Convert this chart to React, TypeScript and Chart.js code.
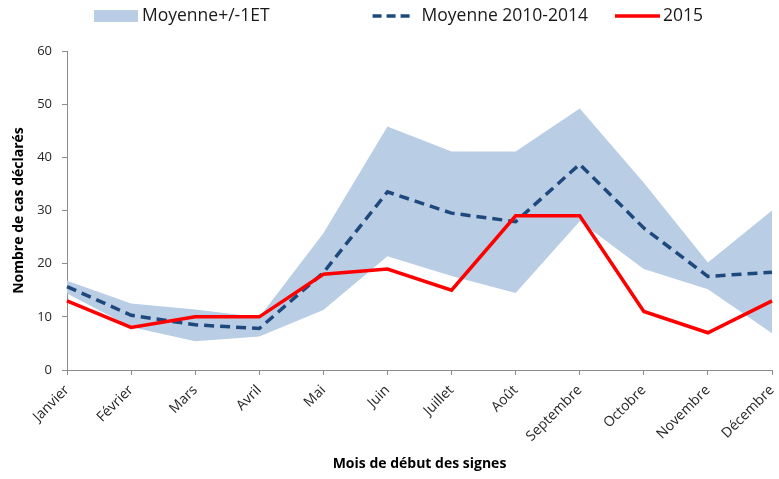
import React, { useEffect, useRef } from "react";
import { Chart, registerables } from "chart.js";

Chart.register(...registerables);

const months = ["Janvier", "Février", "Mars", "Avril", "Mai", "Juin", "Juillet", "Août", "Septembre", "Octobre", "Novembre", "Décembre"];
const bandUpper = [16.8, 12.5, 11.4, 9.9, 25.7, 45.8, 41.1, 41.1, 49.2, 35.2, 20.2, 30.0];
const bandLower = [14.4, 8.1, 5.4, 6.3, 11.3, 21.4, 17.7, 14.5, 28.0, 19.0, 15.2, 6.9];
const mean20102014 = [15.7, 10.3, 8.5, 7.8, 18.3, 33.5, 29.5, 27.9, 38.7, 26.7, 17.6, 18.4];
const year2015 = [13, 8, 10, 10, 18, 19, 15, 29, 29, 11, 7, 13];
const legendLabels = ["Moyenne+/-1ET", "Moyenne 2010-2014", "2015"];
const yTitle = "Nombre de cas déclarés";
const xTitle = "Mois de début des signes";

const BAND = "#B9CDE5";
const NAVY = "#1F497D";
const RED = "#FF0000";
const FONT = "'Open Sans', 'Liberation Sans', sans-serif";
const AXIS = "#8C8C8C";

const customLegend = {
  id: "customLegend",
  afterDraw(chart: any) {
    const ctx = chart.ctx;
    const ds = chart.data.datasets;
    const cy = 16;
    ctx.save();
    ctx.font = `17.5px ${FONT}`;
    ctx.textBaseline = "middle";
    ctx.textAlign = "left";
    let x = 94;
    // band item
    ctx.fillStyle = ds[2].backgroundColor;
    ctx.fillRect(x, cy - 6, 44, 12);
    x += 48;
    ctx.fillStyle = "#1a1a1a";
    ctx.fillText(legendLabels[0], x, cy);
    x += ctx.measureText(legendLabels[0]).width + 103;
    // mean item
    ctx.strokeStyle = ds[1].borderColor;
    ctx.lineWidth = 3.5;
    ctx.setLineDash([9, 5]);
    ctx.beginPath();
    ctx.moveTo(x, cy);
    ctx.lineTo(x + 40, cy);
    ctx.stroke();
    ctx.setLineDash([]);
    x += 49;
    ctx.fillText(legendLabels[1], x, cy);
    x += ctx.measureText(legendLabels[1]).width + 27;
    // 2015 item
    ctx.strokeStyle = ds[0].borderColor;
    ctx.lineWidth = 3.5;
    ctx.beginPath();
    ctx.moveTo(x, cy);
    ctx.lineTo(x + 45, cy);
    ctx.stroke();
    x += 48;
    ctx.fillText(legendLabels[2], x, cy);
    ctx.restore();
  },
};

export default function App() {
  const ref = useRef<HTMLCanvasElement | null>(null);

  useEffect(() => {
    document.body.style.margin = "0";
    if (!ref.current) return;
    const chart = new Chart(ref.current, {
      type: "line",
      data: {
        labels: months,
        datasets: [
          {
            label: legendLabels[2],
            data: year2015,
            borderColor: RED,
            backgroundColor: RED,
            borderWidth: 3.5,
            pointRadius: 0,
            tension: 0,
            fill: false,
            order: 1,
          },
          {
            label: legendLabels[1],
            data: mean20102014,
            borderColor: NAVY,
            backgroundColor: NAVY,
            borderWidth: 3.5,
            borderDash: [10, 6],
            pointRadius: 0,
            tension: 0,
            fill: false,
            order: 2,
          },
          {
            label: legendLabels[0],
            data: bandUpper,
            borderColor: "rgba(0,0,0,0)",
            backgroundColor: BAND,
            borderWidth: 0,
            pointRadius: 0,
            tension: 0,
            fill: "+1",
            order: 3,
          },
          {
            label: "lower",
            data: bandLower,
            borderColor: "rgba(0,0,0,0)",
            backgroundColor: BAND,
            borderWidth: 0,
            pointRadius: 0,
            tension: 0,
            fill: false,
            order: 4,
          },
        ],
      },
      options: {
        responsive: false,
        animation: false,
        layout: { padding: { top: 51, right: 7, left: 0, bottom: 0 } },
        plugins: {
          legend: { display: false },
          tooltip: { enabled: false },
        },
        scales: {
          x: {
            offset: false,
            grid: { display: true, drawOnChartArea: false, drawTicks: true, tickLength: 5, color: AXIS, offset: false },
            border: { display: true, color: AXIS, width: 1 },
            ticks: {
              minRotation: 45,
              maxRotation: 45,
              autoSkip: false,
              padding: 7,
              color: "#262626",
              font: { family: FONT, size: 14 },
            },
            title: {
              display: true,
              text: xTitle,
              color: "#000",
              font: { family: FONT, size: 14, weight: "bold" },
              padding: { top: 0, bottom: 6.5 },
            },
            afterFit(scale: any) {
              scale.height = 109;
              scale.paddingRight = 0;
              scale.paddingLeft = 0;
            },
          },
          y: {
            min: 0,
            max: 60,
            grid: { display: true, drawOnChartArea: false, drawTicks: true, tickLength: 5, color: AXIS },
            border: { display: true, color: AXIS, width: 1 },
            ticks: {
              stepSize: 10,
              padding: 10,
              color: "#262626",
              font: { family: FONT, size: 13 },
            },
            title: {
              display: true,
              text: yTitle,
              color: "#000",
              font: { family: FONT, size: 14, weight: "bold" },
              padding: { top: 10.5, bottom: 0 },
            },
            afterFit(scale: any) {
              scale.width = 67;
            },
          },
        },
      },
      plugins: [customLegend],
    });
    return () => chart.destroy();
  }, []);

  return (
    <div style={{ width: 779, height: 479 }}>
      <canvas ref={ref} width={779} height={479} style={{ display: "block" }} />
    </div>
  );
}
